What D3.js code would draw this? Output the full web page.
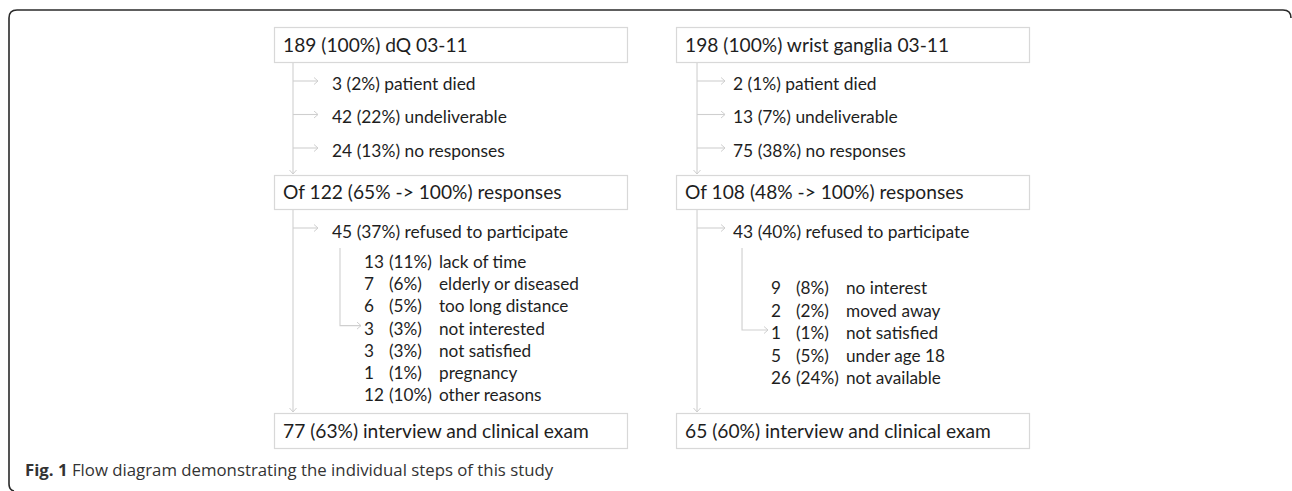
<!DOCTYPE html>
<html>
<head>
<meta charset="utf-8">
<script src="https://cdn.jsdelivr.net/npm/d3@7"></script>
<style>
  body { margin: 0; background: #fff; }
  text { font-family: Lato, "Open Sans", sans-serif; fill: #1e1e1e; }
  .caption { font-family: "Open Sans", sans-serif; fill: #333; }
</style>
</head>
<body>
<svg width="1292" height="491"></svg>
<script>
// two cohorts, left = dQ, right = wrist ganglia
var cohortN = [189, 198];
var cohortName = ["dQ 03-11", "wrist ganglia 03-11"];

var lossLabels = ["patient died", "undeliverable", "no responses"];
var lossN = [[3, 42, 24], [2, 13, 75]];
var lossPct = [[2, 22, 13], [1, 7, 38]];

var responseN = [122, 108];
var responsePct = [65, 48];

var refusedN = [45, 43];
var refusedPct = [37, 40];

var leftReasons = ["lack of time", "elderly or diseased", "too long distance", "not interested", "not satisfied", "pregnancy", "other reasons"];
var leftReasonN = [13, 7, 6, 3, 3, 1, 12];
var leftReasonPct = [11, 6, 5, 3, 3, 1, 10];

var rightReasons = ["no interest", "moved away", "not satisfied", "under age 18", "not available"];
var rightReasonN = [9, 2, 1, 5, 26];
var rightReasonPct = [8, 2, 1, 5, 24];

var finalN = [77, 65];
var finalPct = [63, 60];

var captionBold = "Fig. 1";
var captionText = "Flow diagram demonstrating the individual steps of this study";

var svg = d3.select("svg");
var lineCol = "#cfcfcf", boxCol = "#d8d8d8";

// columns
var x = d3.scaleBand().domain([0, 1]).range([274, 1029]).paddingInner(0.122);

// vertical stages
var stage = { top: [27, 62], mid: [175, 209], bot: [413, 448] };
var lossY = d3.scalePoint().domain(lossLabels).range([81, 148]);
var refusedY = 228;

var reasonSets = [
  { labels: leftReasons, n: leftReasonN, pct: leftReasonPct, y0: 262, step: 22.2, hook: 3, dx: 0 },
  { labels: rightReasons, n: rightReasonN, pct: rightReasonPct, y0: 288, step: 22.5, hook: 2, dx: 5 }
];

var defs = svg.append("defs");
defs.append("marker")
    .attr("id", "chev")
    .attr("markerUnits", "userSpaceOnUse")
    .attr("markerWidth", 8).attr("markerHeight", 10)
    .attr("refX", 5).attr("refY", 4)
    .attr("orient", "auto")
  .append("path")
    .attr("d", "M1,0.5 L5,4 L1,7.5")
    .attr("fill", "none")
    .attr("stroke", lineCol)
    .attr("stroke-width", 1);

// frame
svg.append("path")
    .attr("d", "M1291,18 Q1291,10 1283,10 L17,10 Q9,10 9,18 L9,484 Q9,490 14,491")
    .attr("fill", "none")
    .attr("stroke", "#2a2a2a")
    .attr("stroke-width", 1.6);

function box(g, x0, y, w, label) {
  g.append("rect")
      .attr("x", x0 + 0.5).attr("y", y[0] + 0.5)
      .attr("width", w).attr("height", y[1] - y[0])
      .attr("fill", "#fff")
      .attr("stroke", boxCol)
      .attr("stroke-width", 1.2);
  g.append("text")
      .attr("x", x0 + 9)
      .attr("y", (y[0] + y[1]) / 2 + 7)
      .style("font-size", "19.2px")
      .text(label);
}

function arrow(g, pts) {
  g.append("path")
      .attr("d", d3.line()(pts))
      .attr("fill", "none")
      .attr("stroke", lineCol)
      .attr("stroke-width", 1.1)
      .attr("marker-end", "url(#chev)");
}

[0, 1].forEach(function(i) {
  var g = svg.append("g");
  var bx = x(i), w = x.bandwidth();
  var spine = bx + 19 + i * 2;
  var branchEnd = spine + 25 + i * 3;
  var branchText = spine + 39 - i * 3;

  // main spine arrows
  arrow(g, [[spine, stage.top[1]], [spine, stage.mid[0] - 1]]);
  arrow(g, [[spine, stage.mid[1]], [spine, stage.bot[0] - 1]]);

  // losses
  lossLabels.forEach(function(l, k) {
    var yy = lossY(l);
    arrow(g, [[spine, yy], [branchEnd, yy]]);
    g.append("text")
        .attr("x", branchText)
        .attr("y", yy + 8.5)
        .style("font-size", "17.4px")
        .text(lossN[i][k] + " (" + lossPct[i][k] + "%) " + l);
  });

  // refused
  arrow(g, [[spine, refusedY], [branchEnd, refusedY]]);
  g.append("text")
      .attr("x", branchText)
      .attr("y", refusedY + 10)
      .style("font-size", "17.4px")
      .text(refusedN[i] + " (" + refusedPct[i] + "%) refused to participate");

  // reasons
  var rs = reasonSets[i];
  var ry = d3.scaleLinear().domain([0, 1]).range([rs.y0, rs.y0 + rs.step]);
  var sub = spine + 47 - i * 2;
  var colN = sub + 24 + rs.dx, colP = colN + 25, colL = colN + 75;
  var hookY = ry(rs.hook) - 3;
  arrow(g, [[sub, 248], [sub, hookY], [colN - 3, hookY]]);
  rs.labels.forEach(function(l, k) {
    var yy = ry(k) + 6;
    var t = g.append("g").style("font-size", "17.2px");
    t.append("text").attr("x", colN).attr("y", yy).text(rs.n[k]);
    t.append("text").attr("x", colP).attr("y", yy).text("(" + rs.pct[k] + "%)");
    t.append("text").attr("x", colL).attr("y", yy).text(l);
  });

  box(g, bx, stage.top, w, cohortN[i] + " (100%) " + cohortName[i]);
  box(g, bx, stage.mid, w, "Of " + responseN[i] + " (" + responsePct[i] + "% -> 100%) responses");
  box(g, bx, stage.bot, w, finalN[i] + " (" + finalPct[i] + "%) interview and clinical exam");
});

// caption
var cap = svg.append("text")
    .attr("class", "caption")
    .attr("x", 25)
    .attr("y", 476)
    .style("font-size", "16.8px");
cap.append("tspan").style("font-weight", "bold").text(captionBold);
cap.append("tspan").text(" " + captionText);
</script>
</body>
</html>
